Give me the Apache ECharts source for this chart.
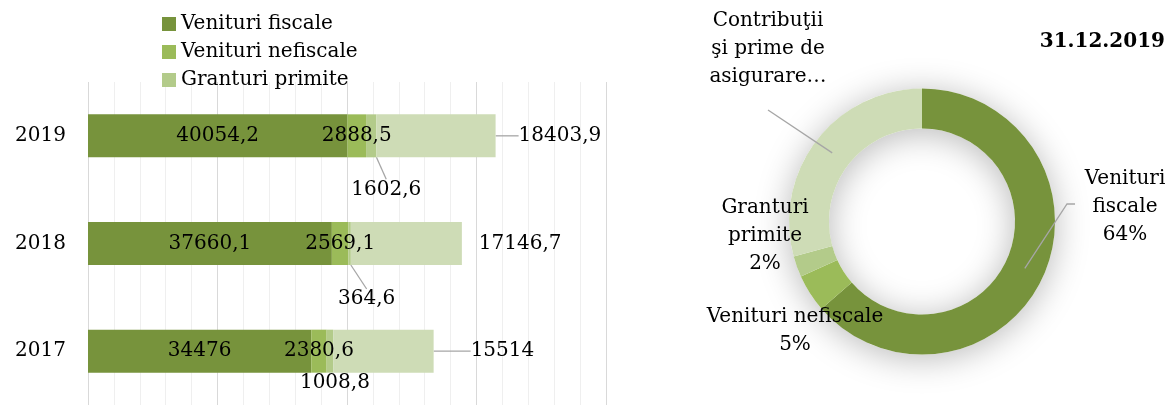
<!DOCTYPE html>
<html><head><meta charset="utf-8">
<script src="https://cdn.jsdelivr.net/npm/echarts@6/dist/echarts.min.js"></script>
<style>html,body{margin:0;padding:0;background:#fff}#c{width:1170px;height:405px}</style>
</head><body><div id="c"></div>
<script>
// ---- data ----
const years = ['2017', '2018', '2019'];
const seriesNames = ['Venituri fiscale', 'Venituri nefiscale', 'Granturi primite', 'Contribuţii şi prime de asigurare'];
const venituriFiscale = [34476, 37660.1, 40054.2];
const venituriNefiscale = [2380.6, 2569.1, 2888.5];
const granturiPrimite = [1008.8, 364.6, 1602.6];
const contributii = [15514, 17146.7, 18403.9];

const pieTitle = '31.12.2019';
const pieValues = [40054.2, 2888.5, 1602.6, 18403.9];
const pieLabelTexts = ['Venituri\nfiscale\n64%', 'Venituri nefiscale\n5%', 'Granturi\nprimite\n2%', 'Contribuţii\nşi prime de\nasigurare…'];

// ---- style / layout ----
const colors = ['#77933C', '#9BBB59', '#B3CB8A', '#CEDCB6'];
const FONT = 'DejaVu Serif';
const pieCenter = [922, 221.5];
const pieR = [93, 133];
const pieLabelPos = [[1125, 207], [795, 331], [765, 236], [768, 49]];
const granOffset = [[5, 10], [17, 34], [15, 32]];   // label offset from bar segment bottom-centre
const contribDx = [37, 17, 23];
const granLine = [false, true, true];
const contribLine = [true, false, true];

const fmt = v => String(v).replace('.', ',');

const chart = echarts.init(document.getElementById('c'));
const total = pieValues.reduce((a, b) => a + b, 0);
function midAngle(i) {
  let s = 0;
  for (let k = 0; k < i; k++) s += pieValues[k];
  return ((s + pieValues[i] / 2) / total) * 2 * Math.PI;
}
function ringPoint(i) {
  const a = midAngle(i), r = (pieR[0] + pieR[1]) / 2;
  return [pieCenter[0] + r * Math.sin(a), pieCenter[1] - r * Math.cos(a)];
}

const labelBase = { color: '#000', fontSize: 20, fontFamily: FONT };
const lineColor = '#A6A6A6';
const lineStyle = { color: lineColor, width: 1.3 };

const option = {
  animation: false,
  backgroundColor: '#fff',
  color: colors,
  title: {
    text: pieTitle, right: 0, top: 27,
    textStyle: { fontFamily: FONT, fontWeight: 'bold', fontSize: 20, color: '#000' }
  },
  legend: {
    data: seriesNames.slice(0, 3),
    orient: 'vertical', left: 157, top: 7,
    itemWidth: 14, itemHeight: 14, itemGap: 4, icon: 'rect',
    textStyle: { fontFamily: FONT, fontSize: 20, color: '#000', lineHeight: 24, padding: [0, 0, 0, 0] }
  },
  grid: { left: 88, width: 518, top: 82, height: 326 },
  xAxis: {
    type: 'value', min: 0, max: 80000, interval: 20000,
    axisLabel: { show: false }, axisLine: { show: false }, axisTick: { show: false },
    splitLine: { show: true, lineStyle: { color: '#D9D9D9', width: 1 } },
    minorTick: { show: false, splitNumber: 5 },
    minorSplitLine: { show: true, lineStyle: { color: '#EFEFEF', width: 1 } }
  },
  yAxis: {
    type: 'category', data: years,
    axisLine: { show: false }, axisTick: { show: false },
    axisLabel: { fontFamily: FONT, fontSize: 20, color: '#000', margin: 22 }
  },
  graphic: [
    { type: 'polyline', z: 100, silent: true,
      shape: { points: [ringPoint(0), [pieLabelPos[0][0] - 58, pieLabelPos[0][1] - 3], [pieLabelPos[0][0] - 50, pieLabelPos[0][1] - 3]] },
      style: { stroke: lineColor, lineWidth: 1.3, fill: null } },
    { type: 'polyline', z: 100, silent: true,
      shape: { points: [ringPoint(3), [pieLabelPos[3][0], pieLabelPos[3][1] + 61]] },
      style: { stroke: lineColor, lineWidth: 1.3, fill: null } }
  ],
  series: [
    {
      name: seriesNames[0], type: 'bar', stack: 't', barWidth: 43, data: venituriFiscale,
      label: Object.assign({ show: true, position: 'inside', formatter: p => fmt(p.value) }, labelBase)
    },
    {
      name: seriesNames[1], type: 'bar', stack: 't', data: venituriNefiscale,
      label: Object.assign({ show: true, position: 'inside', formatter: p => fmt(p.value) }, labelBase)
    },
    {
      name: seriesNames[2], type: 'bar', stack: 't',
      data: granturiPrimite.map((v, i) => ({ value: v, labelLine: { show: granLine[i] } })),
      label: Object.assign({ show: true, position: 'inside', formatter: p => fmt(p.value) }, labelBase),
      labelLine: { show: true, lineStyle: lineStyle },
      labelLayout: p => ({
        x: p.rect.x + p.rect.width / 2 + granOffset[p.dataIndex][0],
        y: p.rect.y + p.rect.height + granOffset[p.dataIndex][1],
        align: 'center', verticalAlign: 'middle'
      })
    },
    {
      name: seriesNames[3], type: 'bar', stack: 't',
      data: contributii.map((v, i) => ({ value: v, labelLine: { show: contribLine[i] } })),
      label: Object.assign({ show: true, position: 'right', distance: 0, formatter: p => fmt(p.value) }, labelBase),
      labelLine: { show: true, lineStyle: lineStyle },
      labelLayout: p => ({ dx: contribDx[p.dataIndex] })
    },
    {
      name: 'shadow', type: 'pie', center: pieCenter, radius: pieR, silent: true,
      label: { show: false }, labelLine: { show: false }, emphasis: { disabled: true },
      itemStyle: { color: '#ffffff', shadowBlur: 34, shadowOffsetY: 4, shadowColor: 'rgba(0,0,0,0.28)' },
      data: [{ value: 1, name: '' }]
    },
    {
      name: 'pie', type: 'pie', center: pieCenter, radius: pieR, startAngle: 90, clockwise: true,
      avoidLabelOverlap: false,
      emphasis: { disabled: true },
      data: pieValues.map((v, i) => ({
        value: v, name: seriesNames[i],
        itemStyle: { color: colors[i] }
      })),
      label: Object.assign({ show: true, position: 'outside', formatter: p => pieLabelTexts[p.dataIndex], lineHeight: 28, align: 'center' }, labelBase),
      labelLine: { show: false },
      labelLayout: p => ({ x: pieLabelPos[p.dataIndex][0], y: pieLabelPos[p.dataIndex][1], align: 'center', verticalAlign: 'middle' })
    }
  ]
};
chart.setOption(option);
</script>
</body></html>
